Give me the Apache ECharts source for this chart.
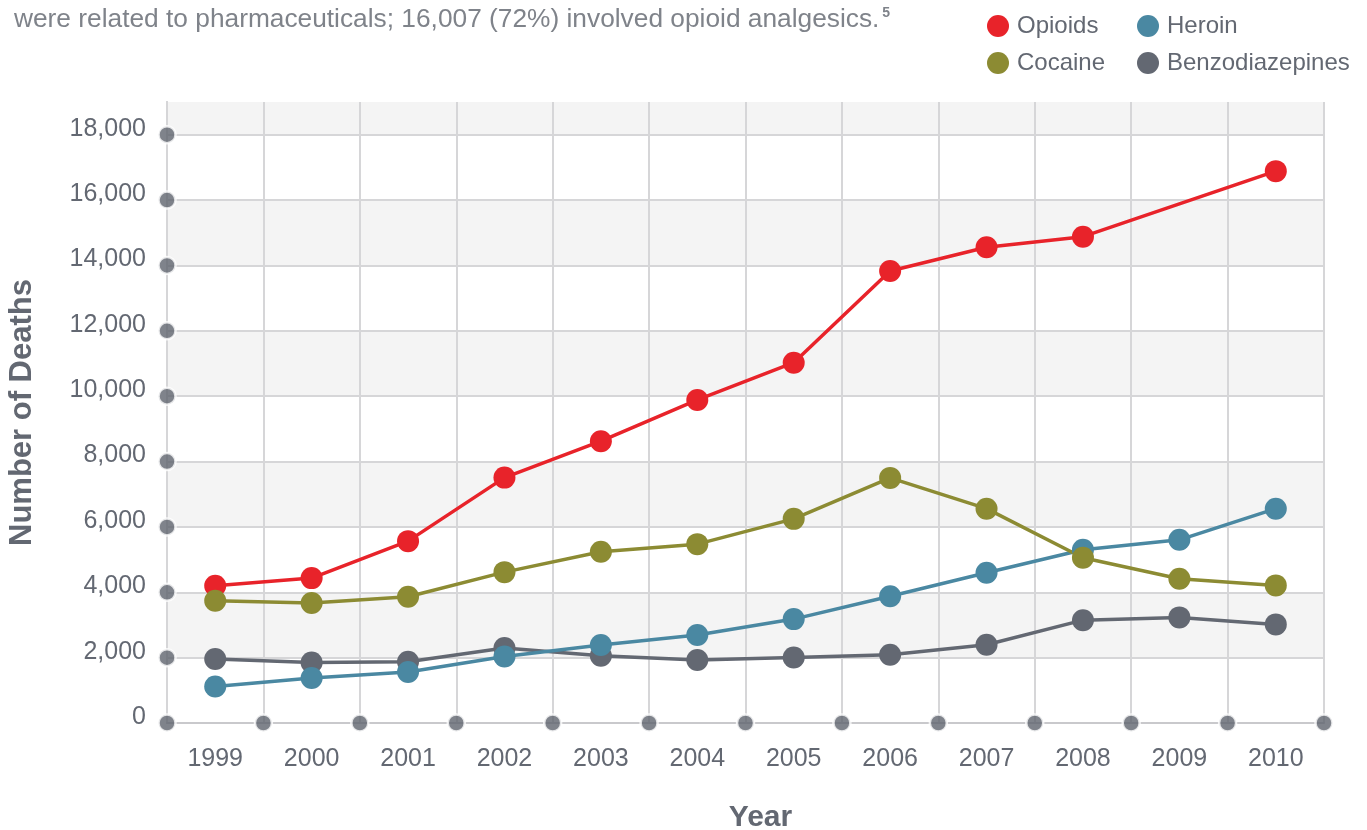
<!DOCTYPE html>
<html>
<head>
<meta charset="utf-8">
<script src="https://cdn.jsdelivr.net/npm/echarts@6/dist/echarts.min.js"></script>
<style>
html,body{margin:0;padding:0;background:#fff;}
#chart{width:1367px;height:830px;}
</style>
</head>
<body>
<div id="chart"></div>
<script>
const years = ['1999','2000','2001','2002','2003','2004','2005','2006','2007','2008','2009','2010'];
const opioids = [4197, 4433, 5564, 7508, 8621, 9884, 11024, 13828, 14555, 14879, null, 16885];
const cocaine = [3739, 3669, 3861, 4616, 5237, 5472, 6246, 7499, 6558, 5057, 4412, 4210];
const heroin = [1119, 1376, 1559, 2036, 2385, 2690, 3179, 3877, 4595, 5301, 5604, 6558];
const benzodiazepines = [1957, 1853, 1874, 2293, 2057, 1926, 2006, 2088, 2394, 3146, 3231, 3017];
const yTicks = [0, 2000, 4000, 6000, 8000, 10000, 12000, 14000, 16000, 18000];
const yMax = 19000;
const introText = 'were related to pharmaceuticals; 16,007 (72%) involved opioid analgesics.';
const footnote = '5';

const FONT = "'Liberation Sans', Helvetica, Arial, sans-serif";
const TXT = '#636872';
const COLORS = {Opioids:'#e8232a', Heroin:'#4a88a2', Cocaine:'#8c8b33', Benzodiazepines:'#636872'};

// decorative dots at axis ticks / category boundaries, derived from the axes
const tickDots = [];
yTicks.forEach(v => tickDots.push([0, v]));
for (let i = 1; i <= years.length; i++) tickDots.push([i, 0]);

function lineSeries(name, data) {
  return {
    name, type: 'line', data,
    xAxisIndex: 0, yAxisIndex: 0,
    connectNulls: true,
    symbol: 'circle', symbolSize: 22,
    lineStyle: {color: COLORS[name], width: 3.5},
    itemStyle: {color: COLORS[name]},
    emphasis: {disabled: true},
    animation: false
  };
}

const chart = echarts.init(document.getElementById('chart'), null, {renderer: 'canvas'});
chart.setOption({
  animation: false,
  backgroundColor: '#ffffff',
  textStyle: {fontFamily: FONT},
  title: {
    left: 9, top: 1,
    text: '{a|' + introText + '}{s|' + footnote + '}',
    textStyle: {
      rich: {
        a: {fontFamily: FONT, fontSize: 26.3, color: '#7f838a', fontWeight: 'normal'},
        s: {fontFamily: FONT, fontSize: 14, color: '#7f838a', padding: [0, 0, 14, 3]}
      }
    }
  },
  legend: [
    {
      data: ['Opioids', 'Cocaine'], orient: 'vertical', left: 982, top: 9,
      icon: 'circle', itemWidth: 28, itemHeight: 22, itemGap: 13,
      textStyle: {fontFamily: FONT, fontSize: 24, color: TXT, lineHeight: 24},
      selectedMode: false
    },
    {
      data: ['Heroin', 'Benzodiazepines'], orient: 'vertical', left: 1132, top: 9,
      icon: 'circle', itemWidth: 28, itemHeight: 22, itemGap: 13,
      textStyle: {fontFamily: FONT, fontSize: 24, color: TXT, lineHeight: 24},
      selectedMode: false
    }
  ],
  grid: {left: 167, right: 43, top: 102, bottom: 107, containLabel: false, outerBoundsMode: 'none'},
  xAxis: [
    {
      type: 'category', data: years, boundaryGap: true,
      name: 'Year', nameLocation: 'middle', nameGap: 80,
      nameTextStyle: {fontFamily: FONT, fontSize: 30, fontWeight: 'bold', color: TXT, padding: [0, 0, 0, 30]},
      axisLine: {show: true, lineStyle: {color: '#c9c9cc', width: 2}},
      axisTick: {show: false},
      axisLabel: {fontFamily: FONT, fontSize: 25, color: TXT, margin: 24},
      splitLine: {show: true, lineStyle: {color: '#d6d6d8', width: 2}},
      z: 1
    },
    {
      type: 'value', min: 0, max: years.length, show: false
    }
  ],
  yAxis: {
    type: 'value', min: 0, max: yMax, interval: 2000,
    name: 'Number of Deaths', nameLocation: 'middle', nameGap: 129, nameRotate: 90,
    nameTextStyle: {fontFamily: FONT, fontSize: 31, fontWeight: 'bold', color: TXT},
    axisLine: {show: true, lineStyle: {color: '#c9c9cc', width: 2}},
    axisTick: {show: false},
    axisLabel: {
      fontFamily: FONT, fontSize: 25, color: TXT, margin: 21,
      verticalAlign: 'bottom', lineHeight: 12,
      formatter: v => (v > yTicks[yTicks.length - 1] ? '' : v.toLocaleString('en-US'))
    },
    splitLine: {show: true, showMaxLine: false, lineStyle: {color: '#d6d6d8', width: 2}},
    splitArea: {show: true, areaStyle: {color: ['#ffffff', '#f4f4f4']}}
  },
  series: [
    lineSeries('Benzodiazepines', benzodiazepines),
    lineSeries('Heroin', heroin),
    lineSeries('Opioids', opioids),
    lineSeries('Cocaine', cocaine),
    {
      name: 'axisDots', type: 'scatter', data: tickDots,
      xAxisIndex: 1, yAxisIndex: 0,
      symbol: 'circle', symbolSize: 17, clip: false, silent: true,
      itemStyle: {color: '#5f646e', borderColor: '#ffffff', borderWidth: 2.5},
      emphasis: {disabled: true},
      z: 3, animation: false
    }
  ]
});
</script>
</body>
</html>
